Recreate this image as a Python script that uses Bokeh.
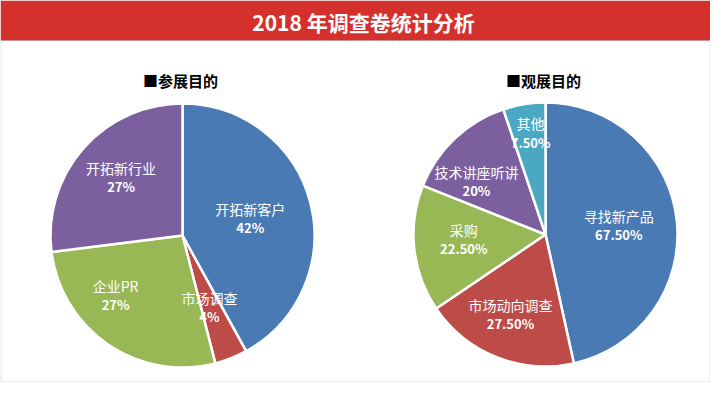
import math
from bokeh.plotting import figure
from bokeh.models import ColumnDataSource, Range1d, Label, BoxAnnotation
from bokeh.core.properties import value
from bokeh.embed import file_html
from bokeh.resources import INLINE

# ---------------- data ----------------
TITLE = "2018 年调查卷统计分析"

left_title = "■参展目的"
left_cats = ["开拓新客户", "市场调查", "企业PR", "开拓新行业"]
left_vals = [42, 4, 27, 27]
left_pct = ["42%", "4%", "27%", "27%"]

right_title = "■观展目的"
right_cats = ["寻找新产品", "市场动向调查", "采购", "技术讲座听讲", "其他"]
right_vals = [67.5, 27.5, 22.5, 20, 7.5]
right_pct = ["67.50%", "27.50%", "22.50%", "20%", "7.50%"]

# ---------------- style / layout ----------------
left_colors = ["#4A7AB4", "#BD4B48", "#98B855", "#7C5F9E"]
right_colors = ["#4A7AB4", "#BD4B48", "#98B855", "#7C5F9E", "#4AA8C2"]
# label placement: (angle nudge in degrees clockwise, radius fraction)
left_nudge = [(0, 0.53), (1, 0.58), (14, 0.68), (2, 0.64)]
right_nudge = [(-1, 0.56), (2, 0.66), (3, 0.62), (-9, 0.66), (1, 0.78)]

W, H = 726, 398
FW, FH = 710, 382
R = 132
CJK = "Noto Sans CJK SC"


def Y(ry):
    return H - ry


p = figure(width=FW, height=FH, output_backend="svg",
           toolbar_location=None, x_range=Range1d(0, FW),
           y_range=Range1d(H - FH, H), min_border=0,
           background_fill_color="white", border_fill_color="white")
p.axis.visible = False
p.grid.visible = False
p.outline_line_color = None

# header banner and panel border
p.add_layout(BoxAnnotation(left=0, right=FW, bottom=Y(40), top=H,
                           fill_color="#D4312D", fill_alpha=1.0,
                           line_alpha=0, level="underlay"))
p.add_layout(BoxAnnotation(left=0.5, right=FW - 0.5, bottom=H - FH + 0.5,
                           top=Y(40), fill_alpha=0, line_color="#8a8a8a",
                           line_width=1, level="underlay"))
p.add_layout(Label(x=W / 2, y=Y(21), text=TITLE, text_align="center",
                   text_baseline="middle", text_color="white",
                   text_font=CJK, text_font_size="21px",
                   text_font_style="bold"))


def draw_pie(cx, cy_ref, title, cats, vals, pct, colors, nudge):
    cy = Y(cy_ref)
    total = float(sum(vals))
    starts, ends, lx, ly = [], [], [], []
    acc = 0.0
    for v, (da, rf) in zip(vals, nudge):
        a0 = acc / total
        a1 = (acc + v) / total
        acc += v
        starts.append(math.pi / 2 - 2 * math.pi * a1)
        ends.append(math.pi / 2 - 2 * math.pi * a0)
        mid = math.radians((a0 + a1) / 2 * 360 + da)
        lx.append(cx + rf * R * math.sin(mid))
        ly.append(cy + rf * R * math.cos(mid))
    src = ColumnDataSource(dict(start=starts, end=ends, color=colors,
                                cat=cats, pct=pct, lx=lx,
                                ly1=[v + 9.5 for v in ly],
                                ly2=[v - 9.5 for v in ly]))
    p.wedge(x=cx, y=cy, radius=R, start_angle="start", end_angle="end",
            direction="anticlock", fill_color="color", line_color="white",
            line_width=2.5, source=src)
    p.text(x="lx", y="ly1", text="cat", source=src, text_color="white",
           text_align="center", text_baseline="middle",
           text_font=value(CJK), text_font_size="14px")
    p.text(x="lx", y="ly2", text="pct", source=src, text_color="white",
           text_align="center", text_baseline="middle",
           text_font=value(CJK), text_font_size="13px",
           text_font_style="bold")
    p.add_layout(Label(x=cx - 2, y=Y(80), text=title, text_align="center",
                       text_baseline="middle", text_color="black",
                       text_font=CJK, text_font_size="15px",
                       text_font_style="bold"))


draw_pie(182, 235, left_title, left_cats, left_vals, left_pct,
         left_colors, left_nudge)
draw_pie(545, 234, right_title, right_cats, right_vals, right_pct,
         right_colors, right_nudge)

open("out.html", "w").write(file_html(p, INLINE))
